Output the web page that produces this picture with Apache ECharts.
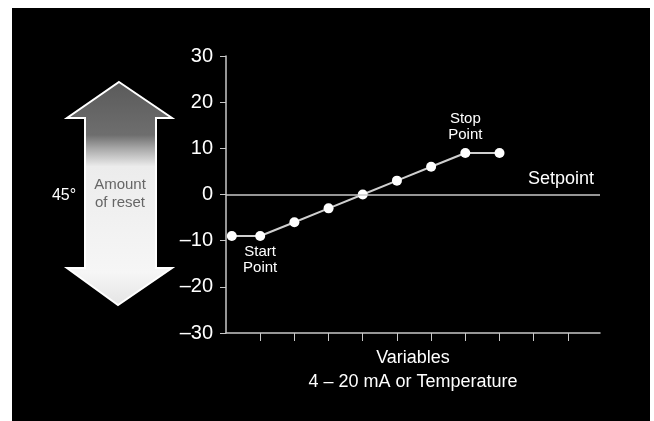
<!DOCTYPE html>
<html>
<head>
<meta charset="utf-8">
<script src="https://cdn.jsdelivr.net/npm/echarts@6/dist/echarts.min.js"></script>
<style>
html,body{margin:0;padding:0;background:#fff;}
#c{width:654px;height:421px;}
</style>
</head>
<body>
<div id="c"></div>
<script>
// ---- data ----
const xPositions = [0.17, 1, 2, 3, 4, 5, 6, 7, 8];
const yValues = [-9, -9, -6, -3, 0, 3, 6, 9, 9];
const yTicks = [-30, -20, -10, 0, 10, 20, 30];
const xTickValues = [1, 2, 3, 4, 5, 6, 7, 8, 9, 10];
const pointNotes = { 1: 'Start\nPoint', 7: 'Stop\nPoint' };
const setpointLabel = 'Setpoint';
const setpointValue = 0;
const xAxisTitle = 'Variables\n4 \u2013 20 mA or Temperature';
const arrowText = 'Amount\nof reset';
const angleText = '45\u00b0';

const FONT = '"Liberation Sans", Arial, Helvetica, sans-serif';

const seriesData = xPositions.map((x, i) => {
  const item = { value: [x, yValues[i]] };
  if (pointNotes[i] !== undefined) {
    item.label = {
      show: true,
      formatter: pointNotes[i],
      position: yValues[i] < 0 ? 'bottom' : 'top',
      distance: yValues[i] < 0 ? 3 : 5,
      color: '#fff',
      fontSize: 15,
      lineHeight: 16,
      fontFamily: FONT
    };
  }
  return item;
});

const chart = echarts.init(document.getElementById('c'), null, { renderer: 'canvas' });
chart.setOption({
  backgroundColor: '#fff',
  animation: false,
  grid: { left: 226, right: 54, top: 56, bottom: 88, containLabel: false },
  xAxis: {
    type: 'value',
    min: 0,
    max: 10.94,
    interval: 1,
    name: xAxisTitle,
    nameLocation: 'middle',
    nameGap: 13,
    nameTextStyle: { color: '#fff', fontSize: 18, lineHeight: 24, fontFamily: FONT, verticalAlign: 'top' },
    axisLine: { show: true, onZero: false, lineStyle: { color: '#c8c8c8', width: 1.5 } },
    axisTick: { show: true, length: 8, inside: false, customValues: xTickValues, lineStyle: { color: '#c8c8c8', width: 1 } },
    axisLabel: { show: false },
    splitLine: { show: false }
  },
  yAxis: {
    type: 'value',
    min: yTicks[0],
    max: yTicks[yTicks.length - 1],
    interval: 10,
    axisLine: { show: true, onZero: false, lineStyle: { color: '#c8c8c8', width: 1.5 } },
    axisTick: { show: true, length: 6, lineStyle: { color: '#c8c8c8', width: 1 } },
    axisLabel: {
      color: '#fff', fontSize: 20, fontFamily: FONT, margin: 13,
      formatter: v => (v < 0 ? '\u2013' + Math.abs(v) : String(v))
    },
    splitLine: { show: false }
  },
  graphic: [
    { type: 'rect', z: -100, shape: { x: 12, y: 8, width: 638, height: 413 }, style: { fill: '#000' } },
    {
      type: 'polygon', z: 1,
      shape: { points: [[119,82],[172,118],[156,118],[156,268],[172,268],[118,305],[67,268],[85,268],[85,118],[67,118]] },
      style: {
        fill: new echarts.graphic.LinearGradient(0, 0, 0, 1, [
          { offset: 0, color: '#5a5a5a' },
          { offset: 0.24, color: '#6e6e6e' },
          { offset: 0.30, color: '#a8a8a8' },
          { offset: 0.38, color: '#ececec' },
          { offset: 0.85, color: '#f6f6f6' },
          { offset: 1, color: '#e4e4e4' }
        ]),
        stroke: '#fff', lineWidth: 2
      }
    },
    {
      type: 'text', z: 2, x: 120, y: 194,
      style: { text: arrowText, fill: '#666', font: '15px ' + FONT, align: 'center', verticalAlign: 'middle', lineHeight: 18 }
    },
    {
      type: 'text', z: 2, x: 64, y: 196,
      style: { text: angleText, fill: '#fff', font: '16px ' + FONT, align: 'center', verticalAlign: 'middle' }
    }
  ],
  series: [{
    type: 'line',
    data: seriesData,
    symbol: 'circle',
    symbolSize: 10,
    itemStyle: { color: '#fff' },
    lineStyle: { color: '#cfcfcf', width: 2 },
    z: 3,
    markLine: {
      silent: true,
      symbol: 'none',
      lineStyle: { color: '#c8c8c8', width: 1.5, type: 'solid' },
      label: {
        show: true, position: 'insideEndTop', formatter: setpointLabel,
        color: '#fff', fontSize: 18, fontFamily: FONT, distance: 6
      },
      data: [{ yAxis: setpointValue }]
    }
  }]
});
</script>
</body>
</html>
